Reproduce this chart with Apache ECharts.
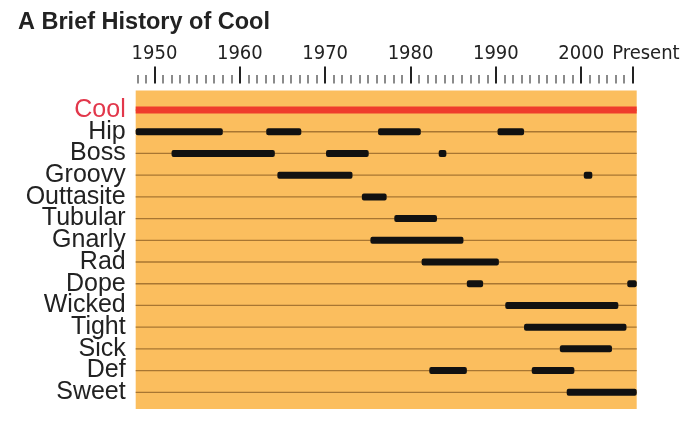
<!DOCTYPE html>
<html>
<head>
<meta charset="utf-8">
<script src="https://cdn.jsdelivr.net/npm/echarts@6/dist/echarts.min.js"></script>
<style>
  html, body { margin: 0; padding: 0; background: #fff; }
  #chart { width: 700px; height: 431px; }
</style>
</head>
<body>
<div id="chart"></div>
<script>
// ---- Data ----
const terms = ['Cool', 'Hip', 'Boss', 'Groovy', 'Outtasite', 'Tubular', 'Gnarly', 'Rad',
               'Dope', 'Wicked', 'Tight', 'Sick', 'Def', 'Sweet'];
const PRESENT = 2006;
const xMin = 1947.8;
const xMax = 2006.5;
const majorTicks = [1950, 1960, 1970, 1980, 1990, 2000, PRESENT];
const minorTicks = [1948, 1949, 1951, 1952, 1953, 1954, 1955, 1956, 1957, 1958, 1959,
  1961, 1962, 1963, 1964, 1965, 1966, 1967, 1968, 1969, 1971, 1972, 1973, 1974, 1975,
  1976, 1977, 1978, 1979, 1981, 1982, 1983, 1984, 1985, 1986, 1987, 1988, 1989, 1991,
  1992, 1993, 1994, 1995, 1996, 1997, 1998, 1999, 2001, 2002, 2003, 2004, 2005];
// [term, start year, end year]
const coolSpan = [['Cool', 1947.8, 2006.5]];
const periods = [
  ['Hip', 1947.8, 1958.0], ['Hip', 1963.1, 1967.2], ['Hip', 1976.2, 1981.2], ['Hip', 1990.2, 1993.3],
  ['Boss', 1952.0, 1964.1], ['Boss', 1970.1, 1975.1], ['Boss', 1983.3, 1984.2],
  ['Groovy', 1964.4, 1973.2], ['Groovy', 2000.3, 2001.3],
  ['Outtasite', 1974.3, 1977.2],
  ['Tubular', 1978.1, 1983.1],
  ['Gnarly', 1975.3, 1986.2],
  ['Rad', 1981.3, 1990.35],
  ['Dope', 1986.6, 1988.5], ['Dope', 2005.4, 2006.5],
  ['Wicked', 1991.1, 2004.35],
  ['Tight', 1993.3, 2005.3],
  ['Sick', 1997.5, 2003.6],
  ['Def', 1982.2, 1986.6], ['Def', 1994.2, 1999.2],
  ['Sweet', 1998.3, 2006.5]
];

// ---- Chart ----
const chart = echarts.init(document.getElementById('chart'), null, { renderer: 'canvas' });
const rowIdx = (name) => terms.indexOf(name);
const narrow = '"Liberation Sans Narrow", "Arial Narrow", "DejaVu Sans Condensed", sans-serif';
const sans = '"Liberation Sans", Arial, Helvetica, sans-serif';

function barRenderer(height, color, radius) {
  return function (params, api) {
    const r = api.value(0);
    const a = api.coord([api.value(1), r]);
    const b = api.coord([api.value(2), r]);
    return {
      type: 'rect',
      shape: { x: a[0], y: a[1] - height / 2, width: b[0] - a[0], height: height, r: radius },
      style: { fill: color },
      z2: 10
    };
  };
}

function termAxis(indices) {
  return {
    type: 'value', inverse: true, min: -0.9, max: 13.77, position: 'left', offset: 0,
    axisLine: { show: false, onZero: false }, axisTick: { show: false }, splitLine: { show: false },
    axisLabel: {
      customValues: indices, margin: 10,
      showMinLabel: true, showMaxLabel: true, hideOverlap: false,
      fontFamily: sans, fontSize: 25, color: '#222',
      formatter: (v) => (v === 0 ? '{c|' : '{n|') + terms[v] + '}',
      rich: {
        c: { fontFamily: sans, fontSize: 25, color: '#e2374b' },
        n: { fontFamily: sans, fontSize: 25, color: '#222' }
      }
    }
  };
}

function yearAxis(extra) {
  return Object.assign({
    type: 'value', position: 'top', min: xMin, max: xMax, offset: 7,
    axisLine: { show: false, onZero: false },
    splitLine: { show: false },
    axisTick: { show: false },
    axisLabel: { show: false }
  }, extra);
}

chart.setOption({
  animation: false,
  title: {
    text: 'A Brief History of Cool',
    left: 18, top: 11, padding: 0,
    textStyle: { fontFamily: sans, fontWeight: 'bold', fontSize: 23.5, color: '#222' }
  },
  grid: {
    left: 135.7, right: 63.3, top: 90.5, bottom: 22,
    show: true, backgroundColor: '#fbbe5e', borderWidth: 0
  },
  xAxis: [
    yearAxis({
      axisLabel: {
        show: true, customValues: majorTicks, margin: 20,
        fontFamily: narrow, fontSize: 20, color: '#222',
        formatter: (v) => v === PRESENT ? '{p|Present}' : String(v),
        rich: { p: { fontFamily: narrow, fontSize: 20, color: '#222', padding: [0, 0, 0, 27] } }
      }
    }),
    yearAxis({
      axisTick: { show: true, inside: false, customValues: majorTicks, length: 17, lineStyle: { color: '#222', width: 2 } }
    }),
    yearAxis({
      axisTick: { show: true, inside: false, customValues: minorTicks, length: 8.5, lineStyle: { color: '#666', width: 1.5 } }
    })
  ],
  yAxis: [
    termAxis(terms.map((t, i) => i).filter(i => i % 2 === 0)),
    termAxis(terms.map((t, i) => i).filter(i => i % 2 === 1))
  ],
  series: [{
    name: 'rows', type: 'custom', silent: true,
    data: terms.map((t, i) => [i, xMin, xMax]),
    renderItem: function (params, api) {
      const r = api.value(0);
      const a = api.coord([api.value(1), r]);
      const b = api.coord([api.value(2), r]);
      return { type: 'line', shape: { x1: a[0], y1: a[1], x2: b[0], y2: b[1] },
               style: { stroke: '#a87632', lineWidth: 1.3 } };
    }
  }, {
    name: 'cool', type: 'custom', silent: true,
    data: coolSpan.map(p => [rowIdx(p[0]), p[1], p[2]]),
    renderItem: barRenderer(7, '#ef3b2c', 0)
  }, {
    name: 'periods', type: 'custom', silent: true,
    data: periods.map(p => [rowIdx(p[0]), p[1], p[2]]),
    renderItem: barRenderer(7, '#111111', 2)
  }]
});
</script>
</body>
</html>
